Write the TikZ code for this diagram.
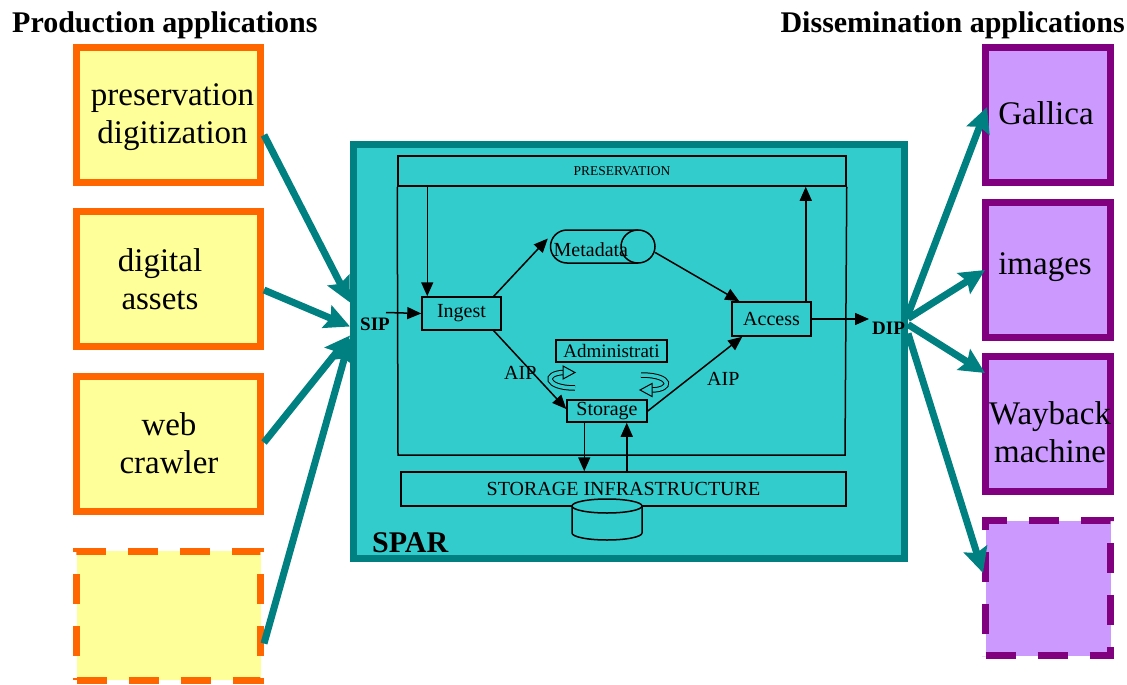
\documentclass[tikz,border=0pt]{standalone}
\usepackage{fontspec}
\setmainfont{Liberation Serif}
\usetikzlibrary{arrows.meta}
\definecolor{orng}{HTML}{FF6600}
\definecolor{yel}{HTML}{FFFF99}
\definecolor{purp}{HTML}{800080}
\definecolor{lil}{HTML}{CC99FF}
\definecolor{tealc}{HTML}{008080}
\definecolor{cyanc}{HTML}{33CCCC}
\begin{document}
\begin{tikzpicture}[x=1pt,y=-1pt,
  prod/.style={draw=orng, fill=yel, line width=7pt, minimum width=184pt, minimum height=135pt, inner sep=0pt},
  diss/.style={draw=purp, fill=lil, line width=7pt, minimum width=125pt, minimum height=135pt, inner sep=0pt},
  dsh/.style={dash pattern=on 30pt off 22pt},
  big/.style={font=\fontsize{33}{38}\selectfont, align=center, inner sep=0pt},
  title/.style={font=\bfseries\fontsize{30}{34}\selectfont, inner sep=0pt},
  fat/.style={draw=tealc, line width=7pt, -{Stealth[length=25pt,width=24pt,inset=4pt]}},
  sbox/.style={draw, line width=1.5pt, inner sep=0pt, font=\fontsize{20}{22}\selectfont},
  blk/.style={draw, line width=1.5pt, -{Triangle[length=14pt,width=12pt]}},
  lbl/.style={inner sep=0pt, font=\fontsize{20}{22}\selectfont},
  blbl/.style={inner sep=0pt, font=\bfseries\fontsize{19}{22}\selectfont},
  rot/.style={line width=1pt, double=cyanc, double distance=3.5pt}
]
\useasboundingbox (0,0) rectangle (1127,685);
\fill[white] (0,0) rectangle (1127,685);

% titles
\node[title, anchor=base west] (tl) at (12,33) {Production applications};
\node[title, anchor=base east] (tr) at (1125,33) {Dissemination applications};

% production boxes
\node[prod] (p1) at (168.5,115) {};
\node[prod] (p2) at (168.5,279) {};
\node[prod] (p3) at (168.5,443.5) {};
\node[prod, dsh, minimum height=129pt] (p4) at (168.5,615.5) {};
\node[big] (t1) at (172.5,117) {preservation\\digitization};
\node[big] (t2) at (160,279) {digital\\assets};
\node[big] (t3) at (169,443) {web\\crawler};

% dissemination boxes
\node[diss] (g) at (1048,115) {};
\node[diss] (img) at (1048,270) {};
\node[diss] (way) at (1048,424) {};
\node[diss, dsh] (d2) at (1048,588) {};
\node[big] (tg) at (1046,113) {Gallica};
\node[big] (ti) at (1045,267) {images};
\node[big] (tw) at (1050,432) {Wayback\\machine};

% SPAR
\node[draw=tealc, fill=cyanc, line width=7pt, minimum width=551pt, minimum height=414pt, inner sep=0pt] (spar) at (629,351.5) {};
\node[title, anchor=base west] (spart) at (372,552) {SPAR};

% preservation band and frame
\node[sbox, minimum width=448pt, minimum height=30pt, font=\fontsize{13.5}{15}\selectfont] (pres) at (622,171) {PRESERVATION};
\draw[line width=1.5pt] (pres.south west) -- (398,455) -- (845,455) -- (pres.south east);

% inner boxes
\node[sbox, minimum width=79pt, minimum height=33pt] (ingest) at (461.5,313.5) {Ingest};
\node[sbox, minimum width=79pt, minimum height=34pt] (access) at (771.5,319) {Access};
\node[sbox, minimum width=111pt, minimum height=22pt, font=\fontsize{19}{21}\selectfont] (admin) at (611.5,351) {Administrati};
\node[sbox, minimum width=80pt, minimum height=22pt] (storage) at (607,411) {Storage};
\node[sbox, minimum width=445pt, minimum height=34pt, font=\fontsize{20}{22}\selectfont] (infra) at (623.5,489) {STORAGE INFRASTRUCTURE};

% metadata cylinder
\node[minimum width=105pt, minimum height=33pt, inner sep=0pt] (meta) at (602.5,246.5) {};
\draw[line width=1.5pt] (638,230) -- (567,230) arc[start angle=270, end angle=90, radius=16.5] -- (638,263);
\draw[line width=1.5pt] (638,246.5) ellipse[x radius=17, y radius=16.5];
\node[lbl, anchor=base west] (metat) at (553.5,256) {Metadata};

% database cylinder
\draw[line width=1.5pt, fill=cyanc] (572,506) -- (572,533) arc[start angle=180, end angle=0, x radius=35, y radius=7] -- (642,506);
\draw[line width=1.5pt, fill=cyanc] (607,506) ellipse[x radius=35, y radius=7];

% labels
\node[blbl, anchor=base west] (sip) at (360,330) {SIP};
\node[blbl, anchor=base west] (dip) at (872,334) {DIP};
\node[lbl, anchor=base west] (aip1) at (504,379) {AIP};
\node[lbl, anchor=base west] (aip2) at (707,385) {AIP};

% black connectors
\coordinate (sipstart) at (386,312.5);
\coordinate (dipend) at (869,319);
\coordinate (pin) at ([xshift=6pt]ingest.north west);
\coordinate (aup) at ([xshift=-6pt]access.north east);
\coordinate (sdown) at ([xshift=18pt]storage.south west);
\coordinate (sup) at ([xshift=-21pt]storage.south east);
\draw[blk] (pin |- pres.south) -- (pin);
\draw[blk] (sipstart) -- (ingest.west);
\draw[blk] (aup) -- (aup |- pres.south);
\draw[blk] (access.east) -- (dipend);
\draw[blk] ([xshift=-8pt]ingest.north east) -- ([xshift=-2pt,yshift=8pt]meta.west);
\draw[blk] ([yshift=-6pt]meta.east) -- ([xshift=8pt]access.north west);
\draw[blk] ([xshift=-8pt]ingest.south east) -- ([yshift=2pt]storage.west);
\draw[blk] (storage.east) -- ([xshift=11pt]access.south west);
\draw[blk] (sdown) -- (sdown |- infra.north);
\draw[blk] (sup |- infra.north) -- (sup);

% rotation symbols
\draw[rot] (575,388) .. controls (545,388) and (543,373) .. (564,372.5);
\draw[line width=1pt, fill=cyanc] (563,366) -- (575,372.5) -- (563,379) -- cycle;
\draw[rot] (641,375) .. controls (673,375) and (673,390) .. (651,390);
\draw[line width=1pt, fill=cyanc] (652,383.5) -- (640,390) -- (652,396.5) -- cycle;

% thick teal connectors
\draw[fat] ([yshift=-20pt]p1.east) -- ([yshift=49pt]spar.west);
\draw[fat] ([yshift=-11pt]p2.east) -- ([yshift=25pt]spar.west);
\draw[fat] ([yshift=1pt]p3.east) -- ([yshift=16pt]spar.west);
\draw[fat] ([yshift=-28pt]p4.east) -- ([yshift=13pt]spar.west);
\draw[fat] ([yshift=37pt]spar.east) -- ([xshift=5pt,yshift=8pt]g.west);
\draw[fat] ([yshift=33pt]spar.east) -- ([xshift=3pt]img.west);
\draw[fat] ([yshift=27pt]spar.east) -- ([xshift=3pt,yshift=51pt]way.west);
\draw[fat] ([yshift=18pt]spar.east) -- ([xshift=1pt,yshift=15pt]d2.west);
\end{tikzpicture}
\end{document}
